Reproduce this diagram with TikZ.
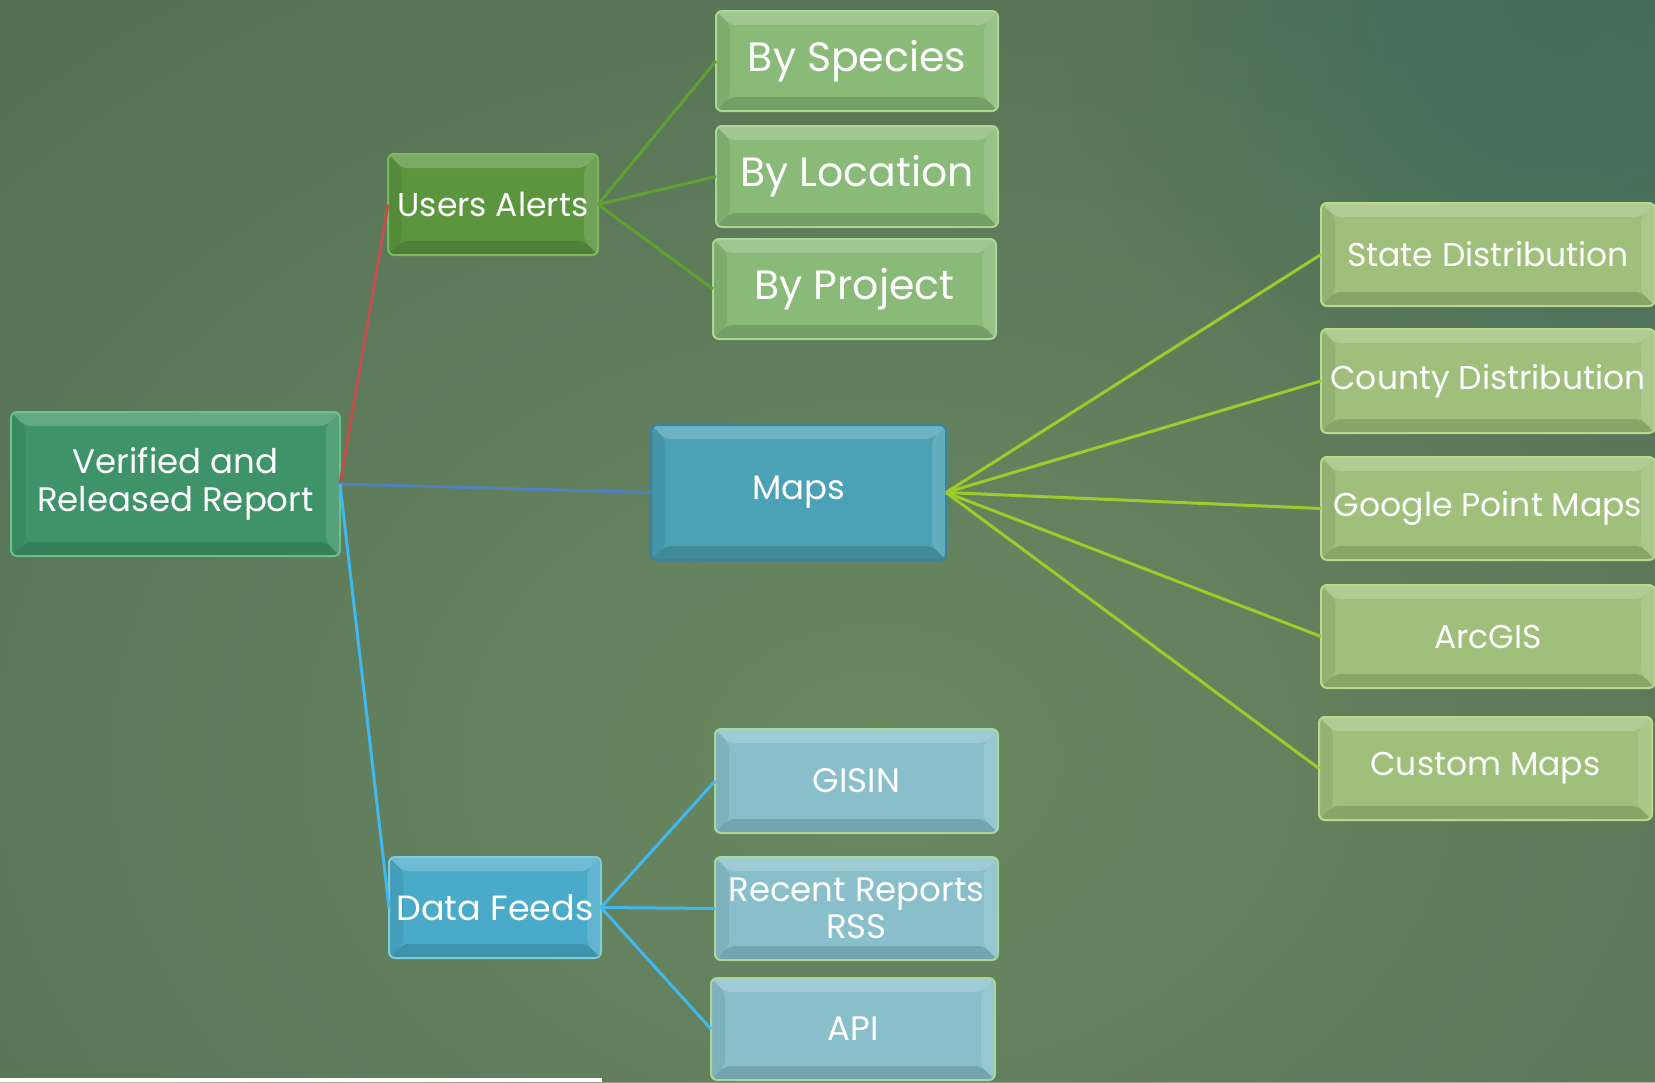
\documentclass[tikz,border=0pt]{standalone}
\usepackage{fontspec}
\setmainfont{Poppins}
\usetikzlibrary{calc,fadings}
\tikzfading[name=myfade, inner color=transparent!0, outer color=transparent!100]
\definecolor{bgBase}{HTML}{48634F}
\definecolor{bgLight}{HTML}{6A8961}
\definecolor{cRoot}{HTML}{3E9468}
\definecolor{bRoot}{HTML}{6CBF8E}
\definecolor{cUA}{HTML}{5B963F}
\definecolor{bUA}{HTML}{7DB860}
\definecolor{cMaps}{HTML}{4BA1B5}
\definecolor{bMaps}{HTML}{3C83A0}
\definecolor{cDF}{HTML}{4AAAC9}
\definecolor{bDF}{HTML}{7CCFD8}
\definecolor{cBy}{HTML}{89BA77}
\definecolor{bBy}{HTML}{A9D895}
\definecolor{cR}{HTML}{9FBF7B}
\definecolor{bR}{HTML}{B9DA8E}
\definecolor{cFeed}{HTML}{88BFCB}
\definecolor{bFeed}{HTML}{A8D79A}
\definecolor{lRed}{HTML}{C0504D}
\definecolor{lBlue}{HTML}{4F81BD}
\definecolor{lLBlue}{HTML}{40B8EF}
\definecolor{lGreen}{HTML}{5FA033}
\definecolor{lYG}{HTML}{9CCC2C}
\definecolor{tealTint}{HTML}{3A6A5E}
\newcommand\bevelpp{%
  \path (path picture bounding box.north west) coordinate (pnw)
        (path picture bounding box.north east) coordinate (pne)
        (path picture bounding box.south west) coordinate (psw)
        (path picture bounding box.south east) coordinate (pse);
  \fill[white,opacity=0.20] (pnw) -- (pne) -- ([shift={(-14pt,-14pt)}]pne) -- ([shift={(14pt,-14pt)}]pnw) -- cycle;
  \fill[black,opacity=0.07] (pnw) -- ([shift={(14pt,-14pt)}]pnw) -- ([shift={(14pt,14pt)}]psw) -- (psw) -- cycle;
  \fill[black,opacity=0.14] (psw) -- ([shift={(14pt,14pt)}]psw) -- ([shift={(-14pt,14pt)}]pse) -- (pse) -- cycle;
  \fill[white,opacity=0.13] (pse) -- ([shift={(-14pt,14pt)}]pse) -- ([shift={(-14pt,-14pt)}]pne) -- (pne) -- cycle;
}
\tikzset{
  bx/.style={rounded corners=6pt, line width=2pt, text=white, inner sep=0pt, outer sep=0pt,
             align=center, path picture={\bevelpp}},
  root/.style={bx, fill=cRoot, draw=bRoot, font=\fontsize{34}{38}\selectfont},
  ua/.style={bx, fill=cUA, draw=bUA, font=\fontsize{33}{38}\selectfont},
  maps/.style={bx, fill=cMaps, draw=bMaps, font=\fontsize{34}{38}\selectfont},
  df/.style={bx, fill=cDF, draw=bDF, font=\fontsize{35}{38}\selectfont},
  byb/.style={bx, fill=cBy, draw=bBy, minimum width=282pt, minimum height=100pt, font=\fontsize{41}{46}\selectfont},
  rb/.style={bx, fill=cR, draw=bR, minimum width=334pt, minimum height=103pt, font=\fontsize{33}{38}\selectfont},
  fb/.style={bx, fill=cFeed, draw=bFeed, minimum width=283pt, minimum height=103pt, font=\fontsize{34}{37}\selectfont},
  con/.style={line width=3pt}
}
\begin{document}
\begin{tikzpicture}[x=1pt,y=-1pt]
\useasboundingbox (0,0) rectangle (1655,1082);
\begin{scope}
\clip (0,0) rectangle (1655,1082);
\fill[bgBase] (0,0) rectangle (1655,1082);
\fill[bgLight, path fading=myfade] (880,760) ellipse[x radius=2000pt, y radius=1500pt];
\fill[tealTint, path fading=myfade, opacity=0.7] (1560,0) circle[radius=500pt];
\end{scope}
\fill[white] (0,1078) rectangle (602,1082);

\node[root, minimum width=329pt, minimum height=144pt] (root) at (175.5,484) {Verified and\\Released Report};
\node[ua, minimum width=210pt, minimum height=101pt] (ua) at (493,204.5) {Users Alerts};
\node[maps, minimum width=295pt, minimum height=135pt] (maps) at (798.5,492.5) {Maps};
\node[df, minimum width=212pt, minimum height=101pt] (df) at (495,907.5) {Data Feeds};

\node[byb] (sp) at (857,61) {By Species};
\node[byb, minimum height=101pt] (loc) at (857,176.5) {By Location};
\node[byb, minimum width=283pt] (proj) at (854.5,289) {By Project};

\node[rb] (state) at (1488,254.5) {State Distribution};
\node[rb, minimum height=104pt] (county) at (1488,381) {County Distribution};
\node[rb] (google) at (1488,508.5) {Google Point Maps};
\node[rb] (arcgis) at (1488,636.5) {ArcGIS};
\node[rb, minimum width=333pt] (custom) at (1485.5,768.5) {Custom Maps};

\node[fb, minimum height=104pt] (gisin) at (856.5,781) {GISIN};
\node[fb] (rss) at (856.5,908.5) {Recent Reports\\RSS};
\node[fb, minimum width=284pt, minimum height=102pt] (api) at (853,1029) {API};

\draw[con, lRed] (root.east) -- (ua.west);
\draw[con, lBlue] (root.east) -- (maps.west);
\draw[con, lLBlue] (root.east) -- (df.west);
\foreach \t in {sp,loc,proj} \draw[con, lGreen] (ua.east) -- (\t.west);
\foreach \t in {state,county,google,arcgis,custom} \draw[con, lYG] (maps.east) -- (\t.west);
\foreach \t in {gisin,rss,api} \draw[con, lLBlue] (df.east) -- (\t.west);
\end{tikzpicture}
\end{document}
